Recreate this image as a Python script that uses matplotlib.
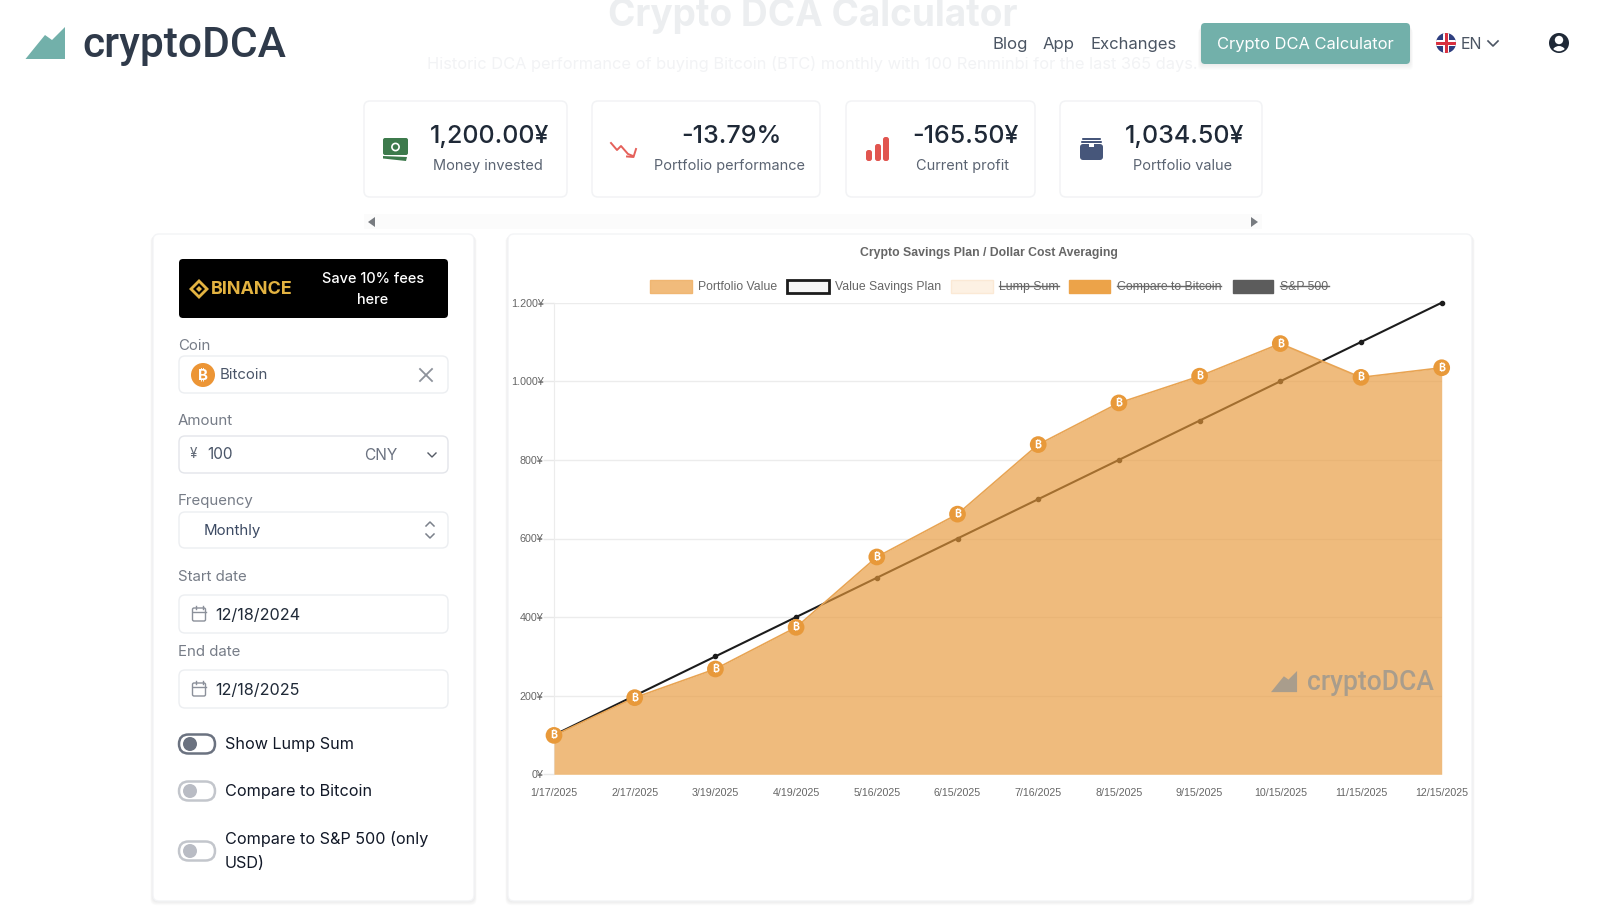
import matplotlib
matplotlib.use("Agg")
import matplotlib.pyplot as plt
from matplotlib.patches import FancyBboxPatch, Circle, Polygon, Rectangle

# ---------- data ----------
dates = ["1/17/2025", "2/17/2025", "3/19/2025", "4/19/2025", "5/16/2025", "6/15/2025",
         "7/16/2025", "8/15/2025", "9/15/2025", "10/15/2025", "11/15/2025", "12/15/2025"]
portfolio_value = [99, 195, 268, 374, 553, 662, 839, 945, 1013, 1096, 1010, 1034.5]
savings_plan = [100, 200, 300, 400, 500, 600, 700, 800, 900, 1000, 1100, 1200]
y_ticks = [0, 200, 400, 600, 800, 1000, 1200]
y_tick_labels = ["0¥", "200¥", "400¥", "600¥", "800¥", "1.000¥", "1.200¥"]
card_values = ["1,200.00¥", "-13.79%", "-165.50¥", "1,034.50¥"]
card_labels = ["Money invested", "Portfolio performance", "Current profit", "Portfolio value"]
nav_items = ["Blog", "App", "Exchanges"]
legend_labels = ["Portfolio Value", "Value Savings Plan", "Lump Sum", "Compare to Bitcoin", "S&P 500"]

W, H = 1600, 914
UI = "Inter"
ARIAL = "Liberation Sans"
COIN_FONT = ["Inter", "Noto Sans", "Roboto", "Open Sans", "Lato", "Liberation Sans", "DejaVu Sans"]
DARK = "#2f3a4a"
TEAL = "#72b0aa"
GREY = "#6b7280"
BORDER = "#eceef1"
ORANGE = "#e8993a"

fig = plt.figure(figsize=(W / 100, H / 100), dpi=100, facecolor="white")
bg = fig.add_axes([0, 0, 1, 1], zorder=0)
bg.set_xlim(0, W)
bg.set_ylim(H, 0)
bg.axis("off")


def px(s):
    return s * 0.72


def rbox(x0, y0, x1, y1, r=6, fc="white", ec="none", lw=1, z=2, alpha=None):
    p = FancyBboxPatch((x0 + r, y0 + r), x1 - x0 - 2 * r, y1 - y0 - 2 * r,
                       boxstyle=f"round,pad={r},rounding_size={r}",
                       fc=fc, ec=ec, lw=lw, zorder=z, alpha=alpha)
    bg.add_patch(p)
    return p


def T(x, y, s, size=15, c=DARK, ha="left", va="center", weight="normal", fam=UI, z=5):
    return bg.text(x, y + 1.3, s, fontsize=px(size), color=c, ha=ha, va=va, weight=weight,
                   family=fam, zorder=z)


def logo_shape(ax_x, ax_y, sx, sy, color, z=3, alpha=None):
    pts = [(0, 32), (10.5, 19), (19.5, 8), (26.5, 13), (39.5, 0), (39.5, 32)]
    bg.add_patch(Polygon([(ax_x + a * sx, ax_y + b * sy) for a, b in pts], closed=True,
                         fc=color, ec="none", zorder=z, alpha=alpha))


# ---------- header ----------
logo_shape(25.5, 27, 1, 1, TEAL)
T(82, 44.5, "cryptoDCA", size=42.5, c=DARK, weight="medium", fam="Roboto")
T(813, 15, "Crypto DCA Calculator", size=37, c="#eceef0", ha="center", weight="bold")
T(812, 63, "Historic DCA performance of buying Bitcoin (BTC) monthly with 100 Renminbi for the last 365 days.",
  size=16.4, c="#f2f3f5", ha="center")
for x, s in zip([992, 1043, 1091], nav_items):
    T(x, 43, s, size=16.7, c="#4b5563")
for i in range(6, 0, -1):
    rbox(1201 - i * 0.5, 23 + i, 1410 + i * 0.5, 64 + i, r=4, fc="#000000", alpha=0.012, z=2)
rbox(1201, 23, 1410, 64, r=4, fc=TEAL)
T(1305.5, 43, "Crypto DCA Calculator", size=16.5, c="white", ha="center")

# flag
fc = Circle((1446, 43), 10, fc="#2f3f80", ec="none", zorder=3)
bg.add_patch(fc)
for xy, w_, h_, col in [((1436, 40), 20, 6, "white"), ((1443, 33), 6, 20, "white"),
                        ((1436, 41.5), 20, 3, "#d8303f"), ((1444.5, 33), 3, 20, "#d8303f")]:
    r_ = Rectangle(xy, w_, h_, fc=col, ec="none", zorder=4)
    bg.add_patch(r_)
    r_.set_clip_path(fc)
T(1461, 43, "EN", size=16, c="#4b5563")
bg.plot([1488, 1493, 1498], [41, 46, 41], color="#4b5563", lw=1.2, zorder=4)
# user icon
bg.add_patch(Circle((1559, 43), 10, fc="#1f2937", ec="none", zorder=3))
bg.add_patch(Circle((1559, 40), 4.2, fc="white", ec="none", zorder=4))
uc = Circle((1559, 43), 8.3, fc="none", ec="none", zorder=3)
bg.add_patch(uc)
sh = Circle((1559, 53), 7, fc="white", ec="none", zorder=4)
bg.add_patch(sh)
sh.set_clip_path(uc)

# ---------- cards ----------
cards = [(364, 567), (592, 820), (846, 1035), (1060, 1262)]
val_cx = [490, 731, 965, 1185]
lab_cx = [488, 729, 962, 1183]
for (a, b), vc, lc, v, l in zip(cards, val_cx, lab_cx, card_values, card_labels):
    rbox(a, 101, b, 197, r=6, fc="white", ec="#f2f3f5", lw=1.1)
    T(vc, 135, v, size=25, c="#1f2937", ha="center", weight="medium")
    T(lc, 165, l, size=14.5, c="#5b6472", ha="center")

# money icon
rbox(383, 138, 408, 155, r=2, fc="#3d7a4c")
bg.add_patch(Circle((395.5, 147), 3.6, fc="none", ec="white", lw=1.2, zorder=4))
bg.add_patch(Polygon([(383, 156), (407, 157), (406, 161), (383, 158.5)], fc="#3d7a4c", ec="none", zorder=3))
# down-trend icon
bg.plot([611, 617, 621, 628, 633], [143, 150, 146, 154, 156], color="#e5605a", lw=1.4, zorder=4)
bg.plot([627, 633.5, 636], [156.5, 157, 149], color="#e5605a", lw=1.4, zorder=4)
# bars icon
for x0, top in [(866, 150), (875, 144), (883, 137)]:
    rbox(x0, top, x0 + 6, 161, r=2.5, fc="#e1554f")
# wallet icon
rbox(1080, 144, 1103, 160, r=3, fc="#46567a")
rbox(1082, 138, 1101, 140, r=1, fc="#46567a")
rbox(1081, 141, 1102, 143, r=1, fc="#46567a")
bg.add_patch(Rectangle((1089, 144), 5, 3, fc="white", ec="none", zorder=4))

# scroller
bg.add_patch(Rectangle((364, 214), 898, 15, fc="#fbfbfb", ec="none", zorder=1))
bg.add_patch(Polygon([(375, 217), (375, 227), (368, 222)], fc="#777b80", ec="none", zorder=3))
bg.add_patch(Polygon([(1251, 217), (1251, 227), (1258, 222)], fc="#777b80", ec="none", zorder=3))

# ---------- panels ----------
for a, b in [(153, 474), (508, 1472)]:
    for i in range(7, 0, -1):
        rbox(a - i * 0.4, 234 + i * 0.3, b + i * 0.4, 901 + i * 0.6, r=6, fc="#000000", alpha=0.012, z=1)
    rbox(a, 234, b, 901, r=6, fc="white", ec="#f3f4f6", lw=1, z=1.5)

# binance banner
rbox(179, 259, 448, 318, r=4, fc="black")
GOLD = "#e3b341"
bg.add_patch(Polygon([(199, 279), (209, 289), (199, 299), (189, 289)], fc=GOLD, ec="none", zorder=4))
bg.add_patch(Polygon([(199, 283), (205, 289), (199, 295), (193, 289)], fc="black", ec="none", zorder=4))
bg.add_patch(Polygon([(199, 286), (202, 289), (199, 292), (196, 289)], fc=GOLD, ec="none", zorder=4))
T(211, 288.5, "BINANCE", size=18, c=GOLD, weight="bold")
T(373, 278, "Save 10% fees", size=14.5, c="white", ha="center", weight="medium")
T(373, 299, "here", size=14.5, c="white", ha="center", weight="medium")

LAB = "#767c87"
T(178, 345, "Coin", size=15, c=LAB)
rbox(179, 356, 448, 393, r=6, fc="white", ec="#eceef1", lw=1)
bg.add_patch(Circle((203, 375), 12, fc="#ec9535", ec="none", zorder=4))
T(203, 374, "₿", size=15, c="white", ha="center", fam=COIN_FONT, weight="bold")
T(220, 374, "Bitcoin", size=15, c="#4a5568")
bg.plot([420, 432], [369, 381], color="#8d929b", lw=1.3, zorder=5)
bg.plot([420, 432], [381, 369], color="#8d929b", lw=1.3, zorder=5)

T(178, 420, "Amount", size=15, c=LAB)
rbox(179, 436, 448, 473, r=6, fc="white", ec="#e3e5ea", lw=1)
T(190, 453, "¥", size=13.5, c="#626a77")
T(207, 453, "100", size=15.5, c="#4a5568")
T(364, 454, "CNY", size=15.5, c="#6b7280")
bg.plot([428, 432, 436], [453, 457, 453], color="#555b66", lw=1, zorder=5)

T(178, 500, "Frequency", size=15, c=LAB)
rbox(179, 512, 448, 548, r=6, fc="white", ec="#eceef1", lw=1)
T(204, 529.5, "Monthly", size=15, c="#3c4a63")
bg.plot([426, 430, 434], [526, 522, 526], color="#7b818b", lw=1.1, zorder=5)
bg.plot([426, 430, 434], [534, 538, 534], color="#7b818b", lw=1.1, zorder=5)


def calendar(cx, cy):
    rbox(cx - 6.5, cy - 6, cx + 6.5, cy + 7, r=1.5, fc="white", ec="#8b909a", lw=1.0, z=4)
    bg.plot([cx - 6.5, cx + 6.5], [cy - 2.5, cy - 2.5], color="#8b909a", lw=1, zorder=5)
    bg.plot([cx - 3.5, cx - 3.5], [cy - 8, cy - 5], color="#8b909a", lw=1, zorder=5)
    bg.plot([cx + 3.5, cx + 3.5], [cy - 8, cy - 5], color="#8b909a", lw=1, zorder=5)


for lab, ly, top, bot, val in [("Start date", 576, 595, 633, "12/18/2024"),
                               ("End date", 651, 670, 708, "12/18/2025")]:
    T(178, ly, lab, size=15, c=LAB)
    rbox(179, top, 448, bot, r=6, fc="white", ec="#eceef1", lw=1)
    calendar(199, (top + bot) / 2)
    T(215, (top + bot) / 2, val, size=16.2, c="#1f2937")


def toggle(cy, ec, knob):
    rbox(179, cy - 9.5, 215, cy + 9.5, r=9.5, fc="white", ec=ec, lw=1.8, z=4)
    bg.add_patch(Circle((190, cy), 7, fc=knob, ec="none", zorder=5))


toggle(744, "#6b7280", "#6b7280")
toggle(791, "#c3c6cc", "#b9bcc4")
toggle(851, "#c3c6cc", "#b9bcc4")
T(225, 743, "Show Lump Sum", size=16.2, c="#111827")
T(225, 790, "Compare to Bitcoin", size=16.2, c="#111827")
T(225, 838, "Compare to S&P 500 (only", size=16.2, c="#111827")
T(225, 862, "USD)", size=16.2, c="#111827")

# ---------- chart ----------
AX_L, AX_R, AX_T, AX_B = 554, 1441.7, 302.7, 774.3
ax = fig.add_axes([AX_L / W, 1 - AX_B / H, (AX_R - AX_L) / W, (AX_B - AX_T) / H], zorder=2)
ax.patch.set_alpha(0)
x = list(range(len(dates)))
ax.set_xlim(0, len(dates) - 1)
ax.set_ylim(0, 1200)
for s in ["top", "right", "bottom"]:
    ax.spines[s].set_visible(False)
ax.spines["left"].set_color("#ececec")
ax.set_yticks(y_ticks, y_tick_labels)
ax.set_xticks(x, dates)
ax.tick_params(axis="y", length=8, width=1, color="#e8e8e8", labelcolor="#666666",
               labelsize=px(10.7), pad=-0.5)
ax.tick_params(axis="x", length=0, labelcolor="#666666", labelsize=px(10.6), pad=10)
for lab in ax.get_xticklabels() + ax.get_yticklabels():
    lab.set_family(ARIAL)
ax.yaxis.grid(True, color="#ececec", lw=1, zorder=0)
ax.set_axisbelow(True)

ax.plot(x, savings_plan, color="#1c1c1c", lw=1.5, marker="o", ms=3, zorder=2, clip_on=False)
ax.fill_between(x, portfolio_value, 0, color="#e8993a", alpha=0.66, lw=0, zorder=3)
ax.plot(x, portfolio_value, color="#e8a453", lw=1.2, zorder=4)
ax.scatter(x, portfolio_value, s=145, color=ORANGE, edgecolors="none", zorder=5, clip_on=False)
for xi, yi in zip(x, portfolio_value):
    ax.text(xi, yi, "₿", fontsize=px(10.5), color="white", ha="center", va="center",
            family=COIN_FONT, weight="bold", zorder=6, clip_on=False)

# watermark
WM = "#a99d8c"
logo_shape(1271, 671, 0.66, 0.66, WM, z=1)
wm_poly = bg.patches[-1]
wm_poly.remove()
ax.add_patch(Polygon(wm_poly.get_xy(), closed=True, fc=WM, ec="none", zorder=7,
                     transform=bg.transData))
ax.text(1307, 683, "cryptoDCA", fontsize=px(26.5), color=WM, ha="left", va="center", weight="medium",
        family="Roboto", zorder=7, transform=bg.transData)

# chart title and legend
T(989, 252, "Crypto Savings Plan / Dollar Cost Averaging", size=12.3, c="#666666",
  ha="center", weight="bold", fam=ARIAL)
legend_boxes = [(650, 692, "#f1bb7b", "#f0b672", 1), (787, 829, "#f6f6f6", "#1c1c1c", 2),
                (951, 993, "#fdf1e3", "#fbe9d5", 1), (1069, 1110, "#eca349", "#eca349", 1),
                (1233, 1273, "#5c5c5c", "#5c5c5c", 1)]
legend_text_x = [(698, 779), (835, 942), (999, 1059), (1117, 1221), (1280, 1329)]
for i, ((a, b, f, e, lw), (tx, tx2), s) in enumerate(zip(legend_boxes, legend_text_x, legend_labels)):
    bg.add_patch(Rectangle((a, 279.5), b - a, 13, fc=f, ec=e, lw=lw, zorder=4))
    T(tx, 285.5, s, size=12.3, c="#666666", fam=ARIAL)
    if i >= 2:
        bg.plot([tx, tx2], [286, 286], color="#666666", lw=1, zorder=6)

fig.savefig("out.png", dpi=100, facecolor="white")
